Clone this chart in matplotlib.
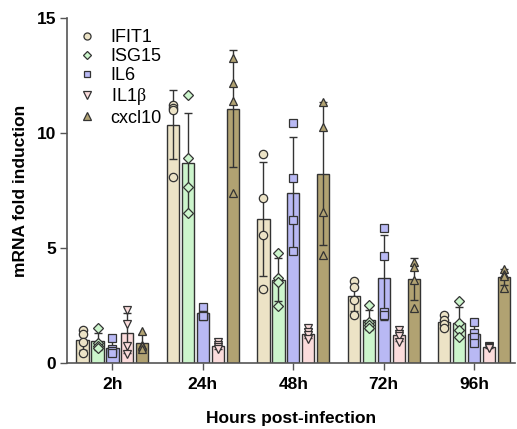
import numpy as np
import matplotlib.pyplot as plt
from matplotlib.lines import Line2D

plt.rcParams['font.family'] = ['Liberation Sans', 'DejaVu Sans']
plt.rcParams['mathtext.fontset'] = 'custom'
plt.rcParams['mathtext.rm'] = 'Liberation Serif'
plt.rcParams['mathtext.default'] = 'rm'

timepoints = ['2h', '24h', '48h', '72h', '96h']
genes = ['IFIT1', 'ISG15', 'IL6', 'IL1$\\beta$', 'cxcl10']

# replicate values per gene, one row per timepoint
ifit1 = [[1.45, 1.25, 0.9, 0.45],
         [11.2, 11.1, 11.0, 8.1],
         [9.07, 7.16, 5.57, 3.2],
         [3.58, 3.32, 2.74, 2.09],
         [2.1, 1.85, 1.7, 1.5]]
isg15 = [[1.5, 0.85, 0.75, 0.65],
         [11.65, 8.9, 7.64, 6.53],
         [4.77, 3.68, 3.53, 2.48],
         [2.52, 1.8, 1.65, 1.5],
         [2.71, 1.72, 1.43, 1.14]]
il6 = [[1.1, 0.6, 0.5, 0.45],
       [2.45, 2.1, 2.05, 2.05],
       [10.45, 8.06, 6.22, 4.88],
       [5.86, 4.65, 2.23, 2.09],
       [1.8, 1.3, 1.12, 0.86]]
il1b = [[2.3, 1.7, 0.75, 0.4],
        [0.9, 0.8, 0.7, 0.6],
        [1.5, 1.35, 1.2, 1.05],
        [1.45, 1.27, 1.16, 0.9],
        [0.75, 0.7, 0.68, 0.65]]
cxcl10 = [[1.4, 0.8, 0.75, 0.6],
          [13.24, 12.16, 11.39, 7.4],
          [11.36, 10.25, 6.58, 4.7],
          [4.4, 4.19, 3.6, 2.38],
          [4.1, 3.85, 3.77, 3.25]]

series = [ifit1, isg15, il6, il1b, cxcl10]
colors = ['#ece3c6', '#ccf5cc', '#b9b9f4', '#fbdcdc', '#b1a272']
markers = ['o', 'D', 's', 'v', '^']
msizes = [6, 4.6, 5.6, 6, 6]
edge = '#333333'

fig = plt.figure(figsize=(5.17, 4.29), dpi=100)
ax = fig.add_axes([0.13, 0.154, 0.866, 0.804])

x = np.arange(len(timepoints))
pitch = 0.165
width = 0.135

for i, (vals, col, mk, ms) in enumerate(zip(series, colors, markers, msizes)):
    arr = np.array(vals)
    means = arr.mean(axis=1)
    sds = arr.std(axis=1, ddof=1)
    xs = x + (i - 2) * pitch
    ax.bar(xs, means, width=width, color=col, edgecolor=edge, linewidth=1.0, zorder=2)
    ax.errorbar(xs, means, yerr=sds, fmt='none', ecolor=edge, elinewidth=1.0,
                capsize=3, capthick=1.0, zorder=3)
    for j in range(len(timepoints)):
        ax.plot(np.full(arr.shape[1], xs[j]), arr[j], linestyle='none', marker=mk,
                markersize=ms, markerfacecolor=col, markeredgecolor=edge,
                markeredgewidth=0.9, zorder=4)

ax.set_xlim(-0.5, 4.45)
ax.set_ylim(0, 15)
ax.set_yticks([0, 5, 10, 15])
ax.set_xticks(x)
ax.set_xticklabels(timepoints, fontweight='bold', fontsize=12.5)
for lab in ax.get_yticklabels():
    lab.set_fontweight('bold')
    lab.set_fontsize(12.5)
ax.tick_params(axis='both', direction='out', length=5, width=1, colors='#555555',
               labelcolor='black')
ax.tick_params(axis='x', pad=5)
ax.tick_params(axis='y', pad=3)
for s in ['top', 'right']:
    ax.spines[s].set_visible(False)
for s in ['left', 'bottom']:
    ax.spines[s].set_color('#555555')
    ax.spines[s].set_linewidth(1.2)

ax.set_ylabel('mRNA fold induction', fontweight='bold', fontsize=12.5, labelpad=6)
ax.set_xlabel('Hours post-infection', fontweight='bold', fontsize=12.5, labelpad=14)

handles = [Line2D([], [], linestyle='none', marker=mk, markersize=ms * 0.85,
                  markerfacecolor=col, markeredgecolor=edge, markeredgewidth=0.9)
           for mk, ms, col in zip(markers, msizes, colors)]
ax.legend(handles, genes, loc='upper left', bbox_to_anchor=(0.0, 1.0), frameon=False,
          fontsize=13, handletextpad=0.8, labelspacing=0.12, borderaxespad=0.2,
          handlelength=1.0)

fig.savefig('out.png', dpi=100)
